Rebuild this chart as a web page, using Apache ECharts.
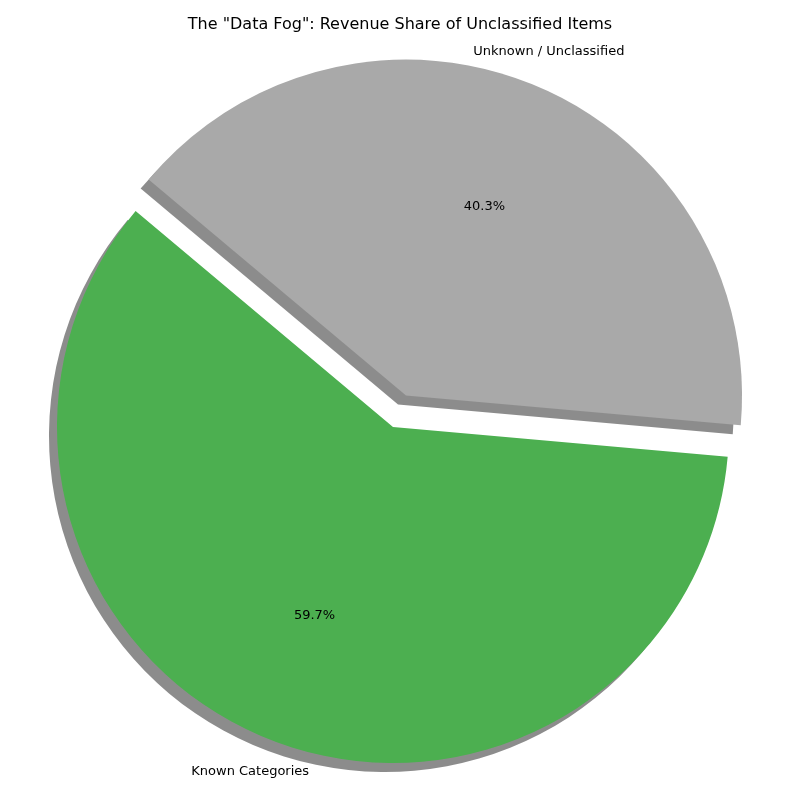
<!DOCTYPE html>
<html lang="en">
<head>
    <meta charset="UTF-8">
    <title>Data Fog</title>
    <script src="https://cdn.jsdelivr.net/npm/echarts@6/dist/echarts.min.js"></script>
</head>
<body style="margin:0">
<div id="main" style="width: 800px;height:800px;"></div>
<script>
    var categories = ['Known Categories', 'Unknown / Unclassified'];
    var shares = [59.7, 40.3];
    var colors = ['#4CAF50', '#A9A9A9'];
    var labelAlign = ['right', 'left'];

    var R = 336;
    var center = [393, 427];
    var offset = 34;

    function makeData(fn) {
        return categories.map(function (c, i) {
            var d = {name: c, value: shares[i], selected: i === 1};
            fn(d, i);
            return d;
        });
    }

    var base = {
        type: 'pie',
        center: center,
        startAngle: 140,
        clockwise: false,
        selectedMode: 'single',
        selectedOffset: offset,
        animation: false,
        labelLine: {show: false}
    };

    var myChart = echarts.init(document.getElementById('main'));
    var option = {
        title: {
            text: 'The "Data Fog": Revenue Share of Unclassified Items',
            left: 'center',
            top: 12,
            textStyle: {fontSize: 16, fontWeight: 'normal', color: '#000', fontFamily: 'DejaVu Sans'}
        },
        series: [
            Object.assign({}, base, {
                radius: [0, R],
                label: {show: false},
                data: makeData(function (d, i) {
                    d.itemStyle = {
                        color: colors[i],
                        shadowColor: 'rgba(0,0,0,0.45)',
                        shadowBlur: 0,
                        shadowOffsetX: -8,
                        shadowOffsetY: 9
                    };
                })
            }),
            Object.assign({}, base, {
                radius: [0, R * 1.2],
                silent: true,
                itemStyle: {color: 'transparent'},
                label: {
                    show: true, position: 'inside', color: '#000', fontSize: 13,
                    fontFamily: 'DejaVu Sans',
                    formatter: function (p) { return p.value.toFixed(1) + '%'; }
                },
                data: makeData(function () {})
            }),
            Object.assign({}, base, {
                radius: [0, R * 2.2],
                silent: true,
                itemStyle: {color: 'transparent'},
                label: {
                    show: true, position: 'inside', color: '#000', fontSize: 13,
                    fontFamily: 'DejaVu Sans',
                    formatter: '{b}'
                },
                data: makeData(function (d, i) {
                    d.label = {align: labelAlign[i]};
                })
            })
        ]
    };
    myChart.setOption(option);
</script>
</body>
</html>
